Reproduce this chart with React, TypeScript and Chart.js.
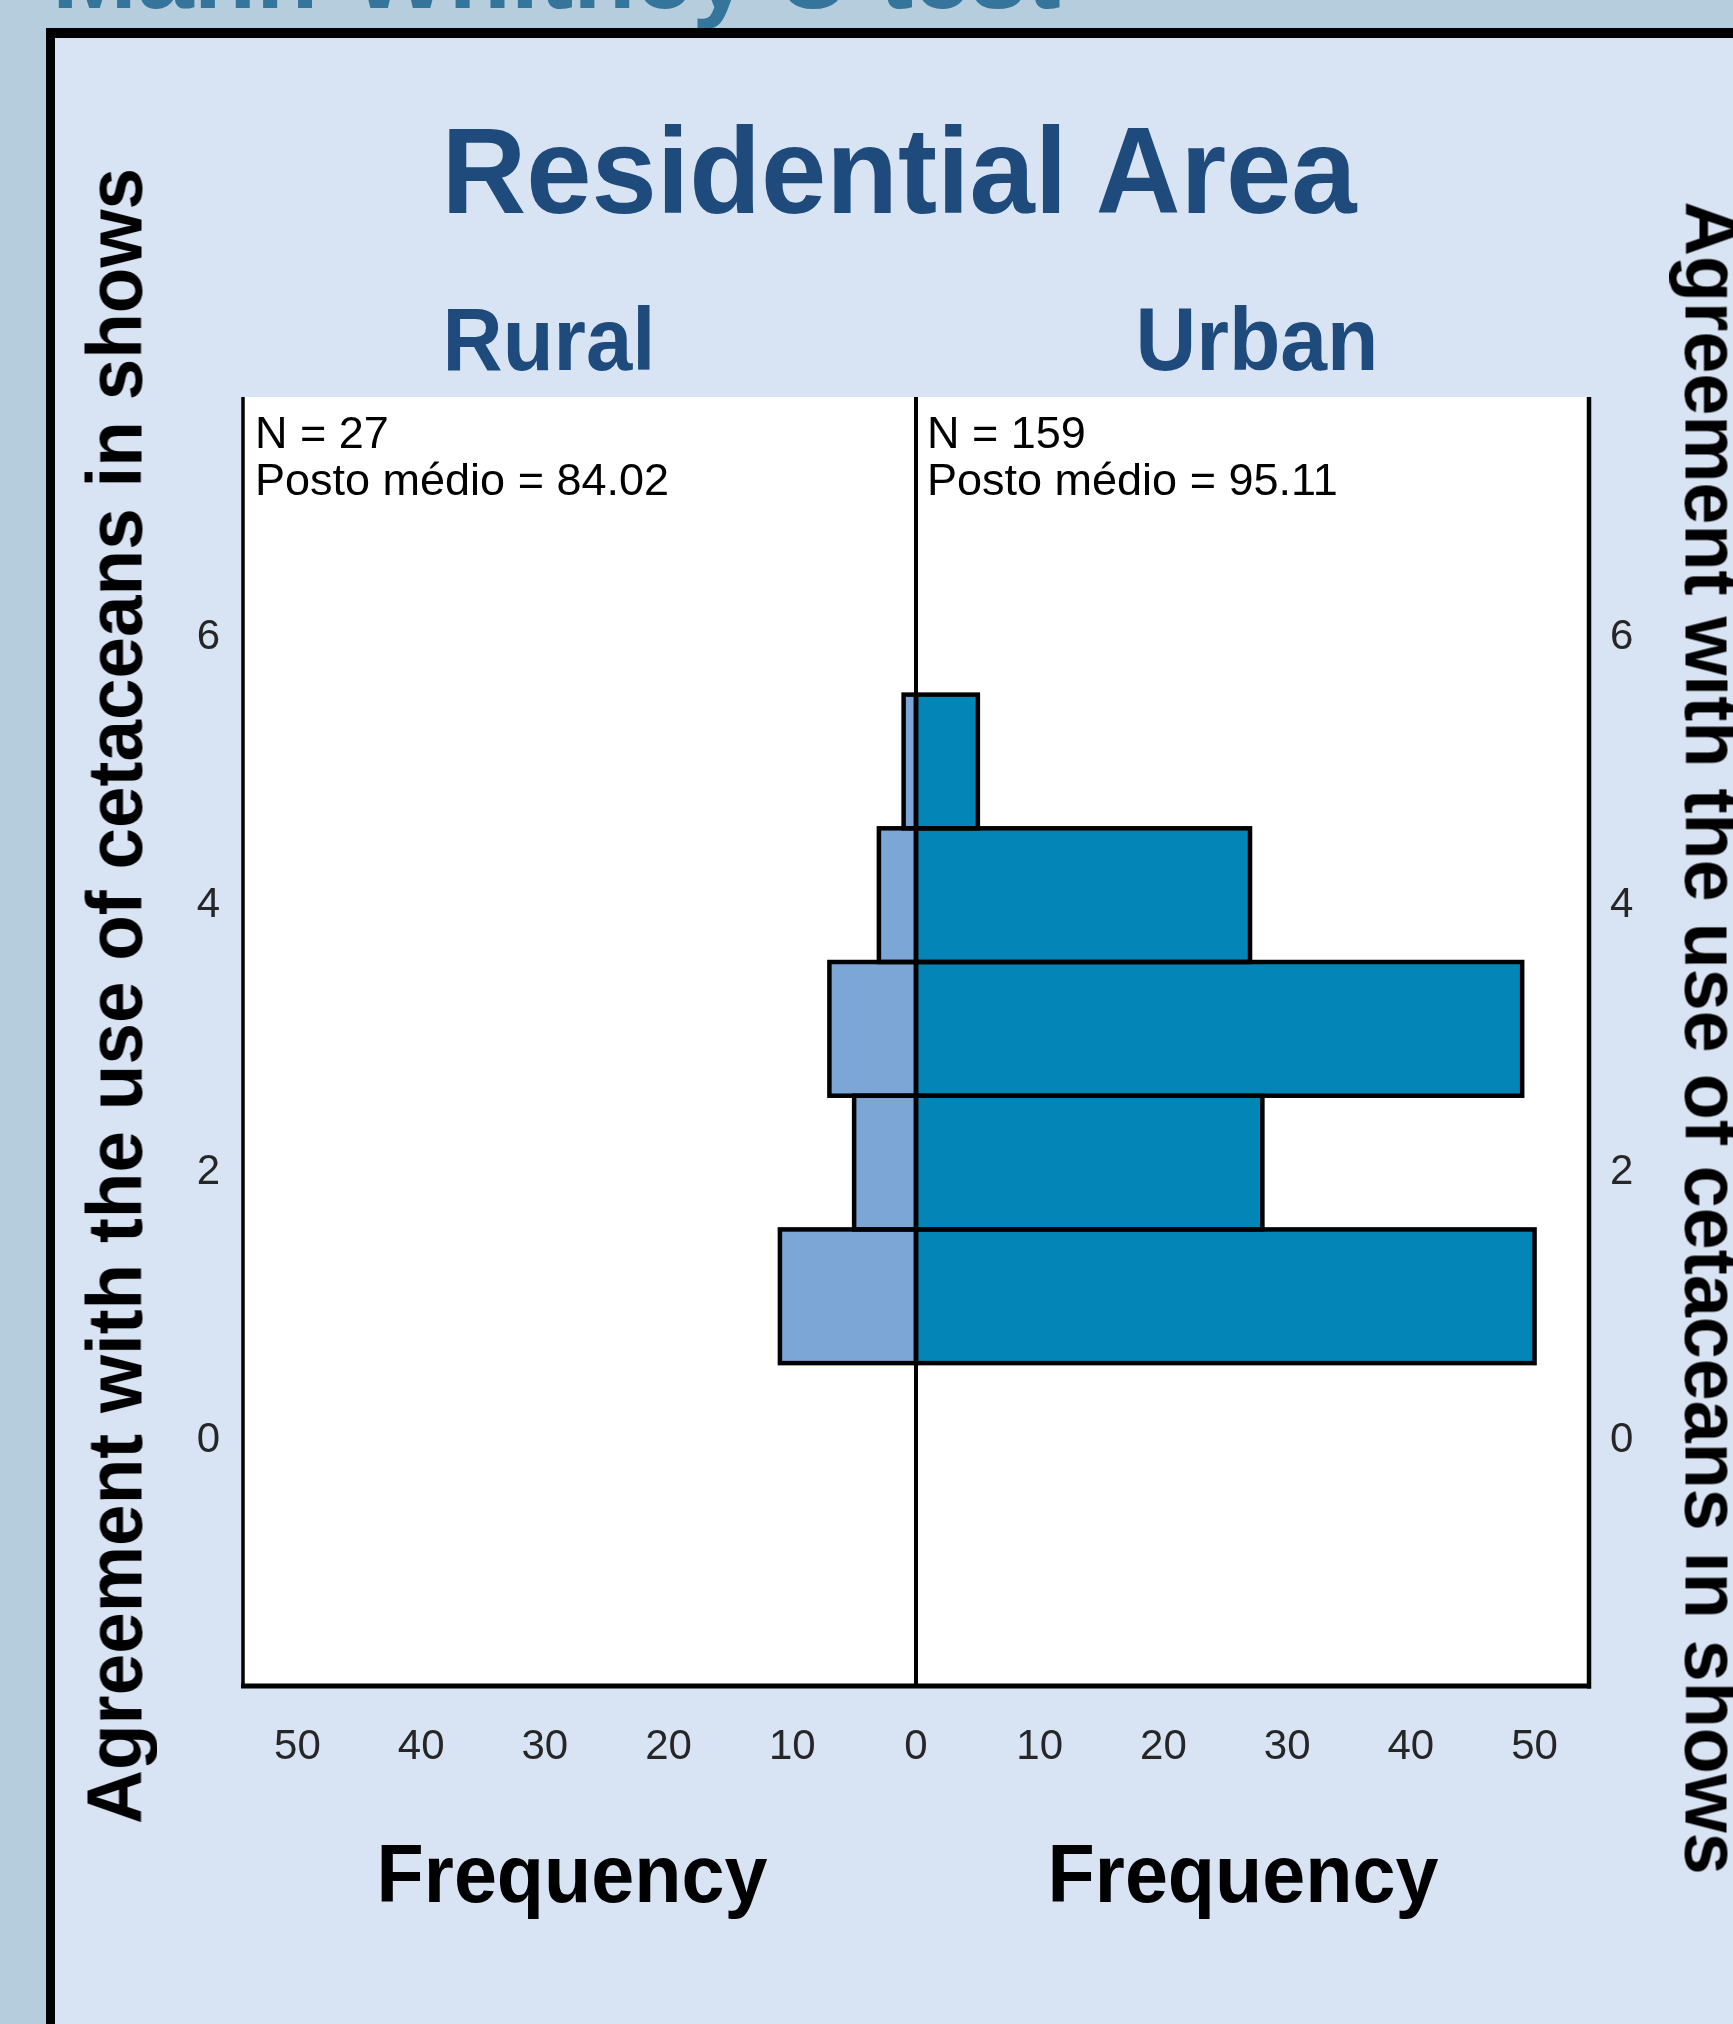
import React, { useEffect, useRef } from "react";
import { Chart, registerables } from "chart.js";

Chart.register(...registerables);

// ---- data ----
const BINS = [1, 2, 3, 4, 5];
const RURAL = [11, 5, 7, 3, 1];
const URBAN = [50, 28, 49, 27, 5];
const X_TICKS = [-50, -40, -30, -20, -10, 0, 10, 20, 30, 40, 50];
const Y_TICKS = [0, 2, 4, 6];
const GROUPS = ["Rural", "Urban"];
const N_VALUES = [27, 159];
const MEAN_RANKS = ["84.02", "95.11"];
const MAIN_TITLE = "Mann-Whitney U test";
const PANEL_TITLE = "Residential Area";
const Y_TITLE = "Agreement with the use of cetaceans in shows";
const X_TITLE = "Frequency";

const RURAL_COLOR = "#7ca6d6";
const URBAN_COLOR = "#0485b8";
const NAVY = "#1f4a7c";
const FONT = '"Liberation Sans", Arial, sans-serif';

const W = 1733;
const H = 2024;

function HText(props: { text: string; x: number; baseline: number; size: number; color: string; sx?: number; bold?: boolean; align?: "center" | "left" }) {
  const { text, x, baseline, size, color, sx = 1, bold = true, align = "center" } = props;
  return (
    <div
      style={{
        position: "absolute",
        left: x,
        top: baseline - 0.8465 * size,
        fontFamily: FONT,
        fontWeight: bold ? 700 : 400,
        fontSize: size,
        lineHeight: `${size}px`,
        height: size,
        color,
        whiteSpace: "nowrap",
        transformOrigin: align === "center" ? "center" : "left center",
        transform: align === "center" ? `translateX(-50%) scaleX(${sx})` : `scaleX(${sx})`,
      }}
    >
      {text}
    </div>
  );
}

function VText(props: { text: string; cx: number; cy: number; size: number; rot: number; sx?: number }) {
  const { text, cx, cy, size, rot, sx = 1 } = props;
  return (
    <div
      style={{
        position: "absolute",
        left: cx,
        top: cy,
        fontFamily: FONT,
        fontWeight: 700,
        fontSize: size,
        lineHeight: `${size}px`,
        height: size,
        color: "#000",
        whiteSpace: "nowrap",
        transform: `translate(-50%, -50%) rotate(${rot}deg) scaleX(${sx})`,
      }}
    >
      {text}
    </div>
  );
}

export default function App() {
  const ref = useRef<HTMLCanvasElement | null>(null);

  useEffect(() => {
    if (!ref.current) return;

    const decor = {
      id: "decor",
      beforeDraw(chart: any) {
        const { ctx, chartArea: a } = chart;
        ctx.save();
        ctx.fillStyle = "#ffffff";
        ctx.fillRect(a.left, a.top, a.right - a.left, a.bottom - a.top);
        ctx.restore();
      },
      afterDatasetsDraw(chart: any) {
        const { ctx, chartArea: a } = chart;
        ctx.save();
        ctx.strokeStyle = "#000";
        ctx.lineWidth = 4.5;
        chart.data.datasets.forEach((_: any, i: number) => {
          const meta = chart.getDatasetMeta(i);
          meta.data.forEach((el: any) => {
            const p = el.getProps(["x", "y", "base", "height"], true);
            const l = Math.min(p.x, p.base);
            const r = Math.max(p.x, p.base);
            ctx.strokeRect(l, p.y - p.height / 2, r - l, p.height);
          });
        });
        const zx = chart.scales.x.getPixelForValue(0);
        // center line
        ctx.lineWidth = 4;
        ctx.beginPath();
        ctx.moveTo(zx, a.top);
        ctx.lineTo(zx, a.bottom);
        ctx.stroke();
        // left border
        ctx.lineWidth = 3.5;
        ctx.beginPath();
        ctx.moveTo(a.left, a.top);
        ctx.lineTo(a.left, a.bottom);
        ctx.stroke();
        // right border
        ctx.lineWidth = 4.5;
        ctx.beginPath();
        ctx.moveTo(a.right, a.top);
        ctx.lineTo(a.right, a.bottom + 2.5);
        ctx.stroke();
        // bottom border
        ctx.lineWidth = 5;
        ctx.beginPath();
        ctx.moveTo(a.left - 2, a.bottom);
        ctx.lineTo(a.right + 2, a.bottom);
        ctx.stroke();

        // annotations
        ctx.fillStyle = "#000";
        ctx.font = `45px ${FONT}`;
        ctx.textBaseline = "alphabetic";
        ctx.textAlign = "left";
        const starts = [a.left + 12, zx + 11];
        starts.forEach((sx, i) => {
          ctx.fillText(`N = ${N_VALUES[i]}`, sx, a.top + 51);
          ctx.fillText(`Posto médio = ${MEAN_RANKS[i]}`, sx, a.top + 98);
        });
        ctx.restore();
      },
    };

    const yMin = -1.915;
    const yMax = 7.726;
    const tickFont = { family: FONT, size: 42 };
    const tickColor = "#262626";

    const chart = new Chart(ref.current, {
      type: "bar",
      data: {
        datasets: [
          {
            label: GROUPS[0],
            data: BINS.map((b, i) => ({ x: -RURAL[i], y: b })),
            backgroundColor: RURAL_COLOR,
            borderWidth: 0,
          },
          {
            label: GROUPS[1],
            data: BINS.map((b, i) => ({ x: URBAN[i], y: b })),
            backgroundColor: URBAN_COLOR,
            borderWidth: 0,
          },
        ],
      },
      options: {
        indexAxis: "y",
        animation: false,
        responsive: false,
        devicePixelRatio: 1,
        layout: { padding: { top: 397, left: 0, right: 0, bottom: 0 } },
        plugins: { legend: { display: false }, tooltip: { enabled: false }, title: { display: false } },
        datasets: { bar: { barPercentage: 1, categoryPercentage: 1, grouped: false } },
        scales: {
          x: {
            type: "linear",
            position: "bottom",
            offset: false,
            min: -54.4,
            max: 54.4,
            grid: { display: false, drawTicks: false, offset: false },
            border: { display: false },
            afterBuildTicks: (s: any) => {
              s.ticks = X_TICKS.map((v) => ({ value: v }));
            },
            afterFit: (s: any) => {
              s.height = H - 1686;
            },
            ticks: {
              font: tickFont,
              color: tickColor,
              padding: 36,
              maxRotation: 0,
              autoSkip: false,
              callback: (v: any) => String(Math.abs(Number(v))),
            },
          },
          y: {
            type: "linear",
            position: "left",
            offset: false,
            min: yMin,
            max: yMax,
            grid: { display: false, drawTicks: false, offset: false },
            border: { display: false },
            afterBuildTicks: (s: any) => {
              s.ticks = Y_TICKS.map((v) => ({ value: v }));
            },
            afterFit: (s: any) => {
              s.width = 243;
            },
            ticks: { font: tickFont, color: tickColor, padding: 23, autoSkip: false, labelOffset: 10 },
          },
          y2: {
            type: "linear",
            position: "right",
            offset: false,
            min: yMin,
            max: yMax,
            grid: { display: false, drawTicks: false, offset: false },
            border: { display: false },
            afterBuildTicks: (s: any) => {
              s.ticks = Y_TICKS.map((v) => ({ value: v }));
            },
            afterFit: (s: any) => {
              s.width = W - 1589;
            },
            ticks: { font: tickFont, color: tickColor, padding: 21, autoSkip: false, labelOffset: 10 },
          },
        },
      } as any,
      plugins: [decor],
    });

    return () => chart.destroy();
  }, []);

  return (
    <div
      style={{
        position: "absolute",
        left: 0,
        top: 0,
        width: W,
        height: H,
        overflow: "hidden",
        background: "#b5cddc",
      }}
    >
      <HText text={MAIN_TITLE} x={52} baseline={8} size={102} color="#35759c" align="left" />
      <div
        style={{
          position: "absolute",
          left: 46,
          top: 28,
          width: 2000,
          height: 2200,
          boxSizing: "border-box",
          borderTop: "10px solid #000",
          borderLeft: "9px solid #000",
          background: "#d8e4f3",
        }}
      />
      <canvas
        ref={ref}
        width={W}
        height={H}
        style={{ position: "absolute", left: 0, top: 0, width: W, height: H }}
      />
      <HText text={PANEL_TITLE} x={899} baseline={213} size={123} color={NAVY} sx={0.954} />
      <HText text={GROUPS[0]} x={549} baseline={370} size={89} color={NAVY} sx={0.936} />
      <HText text={GROUPS[1]} x={1257} baseline={370} size={89} color={NAVY} sx={0.945} />
      <HText text={X_TITLE} x={572} baseline={1903} size={81} color="#000" sx={0.954} />
      <HText text={X_TITLE} x={1243} baseline={1903} size={81} color="#000" sx={0.954} />
      <VText text={Y_TITLE} cx={115.3} cy={995.5} size={77} rot={-90} sx={0.97} />
      <VText text={Y_TITLE} cx={1711.7} cy={1038} size={77} rot={90} sx={0.98} />
    </div>
  );
}
